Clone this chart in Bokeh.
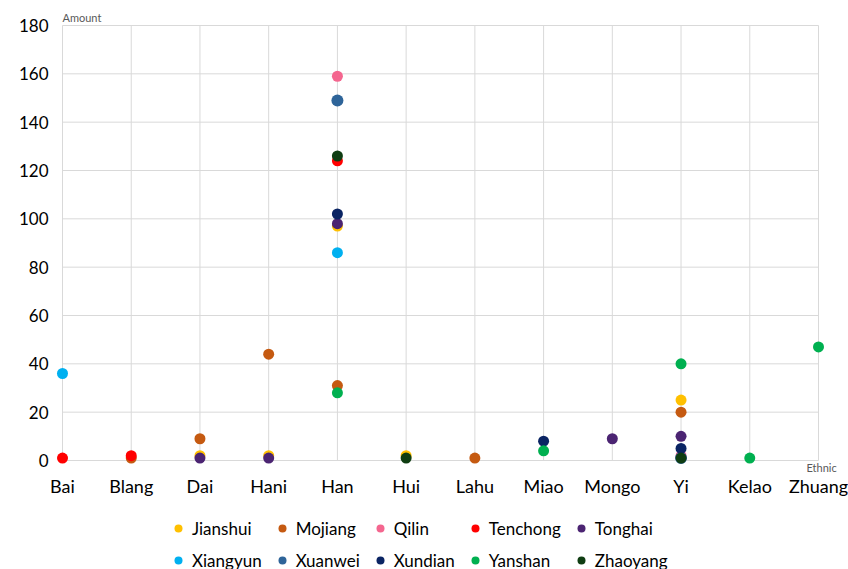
from bokeh.plotting import figure
from bokeh.models import Legend, LegendItem, FixedTicker, Label, Range1d
from bokeh.embed import file_html
from bokeh.resources import INLINE

nan = float("nan")

categories = ["Bai", "Blang", "Dai", "Hani", "Han", "Hui", "Lahu", "Miao", "Mongo", "Yi", "Kelao", "Zhuang"]
y_ticks = [0, 20, 40, 60, 80, 100, 120, 140, 160, 180]

series_names = ["Jianshui", "Mojiang", "Qilin", "Tenchong", "Tonghai",
                "Xiangyun", "Xuanwei", "Xundian", "Yanshan", "Zhaoyang"]
series_colors = ["#FFC000", "#C55A11", "#F4668F", "#FF0000", "#4B2472",
                 "#00B0F0", "#2E6499", "#0A2463", "#00B050", "#0F3D12"]

#            Bai  Blang Dai  Hani Han  Hui  Lahu Miao Mongo Yi   Kelao Zhuang
jianshui = [nan, nan,  2,   2,   97,  2,   nan, nan, nan,  25,  nan,  nan]
mojiang  = [nan, 1,    9,   44,  31,  nan, 1,   nan, nan,  20,  nan,  nan]
qilin    = [nan, nan,  nan, nan, 159, nan, nan, nan, nan,  2,   nan,  nan]
tenchong = [1,   2,    nan, nan, 124, nan, nan, nan, nan,  nan, nan,  nan]
tonghai  = [nan, nan,  1,   1,   98,  nan, nan, nan, 9,    10,  nan,  nan]
xiangyun = [36,  nan,  nan, nan, 86,  nan, nan, nan, nan,  nan, nan,  nan]
xuanwei  = [nan, nan,  nan, nan, 149, nan, nan, nan, nan,  1,   nan,  nan]
xundian  = [nan, nan,  nan, nan, 102, nan, nan, 8,   nan,  5,   nan,  nan]
yanshan  = [nan, nan,  nan, nan, 28,  nan, nan, 4,   nan,  40,  1,    47]
zhaoyang = [nan, nan,  nan, nan, 126, 1,   nan, nan, nan,  1,   nan,  nan]

series_values = [jianshui, mojiang, qilin, tenchong, tonghai,
                 xiangyun, xuanwei, xundian, yanshan, zhaoyang]

FONT = "Lato"
GRID = "#D9D9D9"

W, H = 848, 569
LEFT, TOP = 0, 0                  # frame placement on the canvas
X0_PX, X11_PX = 62, 818           # where categories 0 and 11 sit
Y180_PX, Y0_PX = 25, 460          # where 180 and 0 sit

n = len(categories)
xs = list(range(n))
sx = (X11_PX - X0_PX) / (n - 1)
sy = (Y0_PX - Y180_PX) / 180

x_range = Range1d(-(X0_PX - LEFT) / sx, (n - 1) + (W - X11_PX) / sx)
y_range = Range1d(-(H - Y0_PX) / sy, 180 + (Y180_PX - TOP) / sy)

p = figure(width=W, height=H, output_backend="svg", toolbar_location=None,
           x_range=x_range, y_range=y_range,
           min_border_left=LEFT, min_border_right=0, min_border_top=TOP, min_border_bottom=0)
p.outline_line_color = None
p.xgrid.visible = False
p.ygrid.visible = False
p.background_fill_color = "white"
p.border_fill_color = "white"

# grid lines drawn in data space
p.segment(x0=xs, y0=[0] * n, x1=xs, y1=[180] * n, line_color=GRID, line_width=1)
p.segment(x0=[0] * len(y_ticks), y0=y_ticks, x1=[n - 1] * len(y_ticks), y1=y_ticks,
          line_color=GRID, line_width=1)

renderers = []
for name, col, vals in zip(series_names, series_colors, series_values):
    size = 12 if name == "Xuanwei" else 11
    r = p.scatter(xs, vals, size=size, fill_color=col, line_color=None)
    renderers.append((name, r))

for ax in (p.xaxis[0], p.yaxis[0]):
    ax.axis_line_color = None
    ax.major_tick_line_color = None
    ax.minor_tick_line_color = None
    ax.major_tick_out = 0
    ax.major_tick_in = 0
    ax.major_label_text_font = FONT
    ax.major_label_text_font_size = "17px"
    ax.major_label_text_color = "#000000"
    ax.fixed_location = 0

p.xaxis.ticker = FixedTicker(ticks=xs)
p.xaxis.major_label_overrides = {i: c for i, c in enumerate(categories)}
p.xaxis.major_label_text_font_size = "18px"
p.xaxis.major_label_standoff = 14
p.yaxis.ticker = FixedTicker(ticks=y_ticks)
p.yaxis.major_label_standoff = 14

p.add_layout(Label(x=0, y=180, y_offset=8, text="Amount", text_font=FONT,
                   text_font_size="11px", text_color="#595959",
                   text_baseline="alphabetic", text_align="left"))
p.add_layout(Label(x=n - 1, y=0, x_offset=-12, y_offset=-7, text="Ethnic",
                   text_font=FONT, text_font_size="11px", text_color="#595959",
                   text_baseline="middle", text_align="left"))

legend = Legend(items=[LegendItem(label=nm, renderers=[r]) for nm, r in renderers],
                orientation="horizontal", ncols=5,
                location=(168 - LEFT, -2), padding=0, margin=0, spacing=10,
                label_standoff=4, glyph_width=20, glyph_height=22, label_height=22,
                label_text_font=FONT, label_text_font_size="17px",
                label_text_color="#000000",
                background_fill_alpha=0, border_line_color=None)
p.add_layout(legend, "center")

open("out.html", "w").write(file_html(p, INLINE))
